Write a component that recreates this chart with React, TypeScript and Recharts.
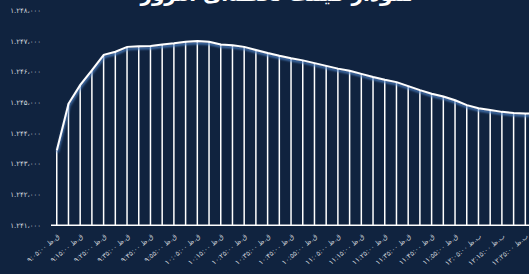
import React from 'react';
import { ComposedChart, Bar, Line, XAxis, YAxis } from 'recharts';

const times = [
  '9:05:00', '9:10:00', '9:15:00', '9:20:00', '9:25:00', '9:30:00', '9:35:00', '9:40:00',
  '9:45:00', '9:50:00', '9:55:00', '10:00:00', '10:05:00', '10:10:00', '10:15:00', '10:20:00',
  '10:25:00', '10:30:00', '10:35:00', '10:40:00', '10:45:00', '10:50:00', '10:55:00', '11:00:00',
  '11:05:00', '11:10:00', '11:15:00', '11:20:00', '11:25:00', '11:30:00', '11:35:00', '11:40:00',
  '11:45:00', '11:50:00', '11:55:00', '12:00:00', '12:05:00', '12:10:00', '12:15:00', '12:20:00',
  '12:25:00', '12:30:00',
];

const prices = [
  1243450, 1244970, 1245580, 1246060, 1246560, 1246660, 1246820, 1246840,
  1246850, 1246900, 1246940, 1246990, 1247010, 1246990, 1246900, 1246870,
  1246820, 1246720, 1246620, 1246530, 1246450, 1246380, 1246290, 1246200,
  1246110, 1246040, 1245940, 1245840, 1245750, 1245670, 1245540, 1245410,
  1245290, 1245200, 1245080, 1244920, 1244820, 1244760, 1244700, 1244660,
  1244650, 1244640,
];

const yTicks = [1241000, 1242000, 1243000, 1244000, 1245000, 1246000, 1247000, 1248000];

const titleText = 'نمودار قیمت لحظه‌ای امروز';

const faDigits = '۰۱۲۳۴۵۶۷۸۹';
const toFa = (s: string) => s.replace(/[0-9]/g, (d) => faDigits[Number(d)]);
const fmtNum = (n: number) => {
  const s = String(n);
  return toFa(s.slice(0, 1) + '.' + s.slice(1, 4) + '،' + s.slice(4));
};
const fmtTime = (t: string) => toFa(t) + (parseInt(t, 10) >= 12 ? ' ب.ظ' : ' ق.ظ');

const data = times.map((t, i) => ({ time: t, price: prices[i] }));

const BG = '#10233f';

export default function App() {
  return (
    <div style={{ position: 'fixed', left: 0, top: 0, width: 529, height: 274, overflow: 'hidden', background: BG }}>
      <svg width={0} height={0} style={{ position: 'absolute' }}>
        <defs>
          <filter id="lineShadow" x="-5%" y="-20%" width="110%" height="140%">
            <feDropShadow dx="0.5" dy="2" stdDeviation="0.8" floodColor="#4f86cc" floodOpacity="1" />
          </filter>
        </defs>
      </svg>
      <div
        style={{
          position: 'absolute', left: 0, top: -18, width: 554, textAlign: 'center',
          fontFamily: 'DejaVu Sans', fontWeight: 'bold', fontSize: 20, color: '#ffffff', direction: 'rtl',
        }}
      >
        {titleText}
      </div>
      <div style={{ position: 'absolute', left: 0, top: 0 }}>
        <ComposedChart width={554} height={274} data={data} margin={{ top: 10.7, right: 11, bottom: 0, left: 0 }}>
          <XAxis
            dataKey="time"
            interval={1}
            tickFormatter={fmtTime}
            angle={-40}
            textAnchor="end"
            height={48.7}
            tickLine={false}
            axisLine={{ stroke: '#ffffff', strokeWidth: 1.5 }}
            tick={{ fill: '#c9ced6', fontSize: 7, fontFamily: 'DejaVu Sans' }}
          />
          <YAxis
            domain={[1241000, 1248000]}
            ticks={yTicks}
            tickFormatter={fmtNum}
            width={51}
            tickLine={false}
            axisLine={false}
            tickMargin={4}
            tick={{ fill: '#d3d7de', fontSize: 7, fontFamily: 'DejaVu Sans' }}
          />
          <Bar dataKey="price" fill="#ffffff" barSize={1.5} isAnimationActive={false} />
          <Line
            dataKey="price"
            type="linear"
            stroke="#ffffff"
            strokeWidth={2}
            dot={false}
            filter="url(#lineShadow)"
            isAnimationActive={false}
          />
        </ComposedChart>
      </div>
    </div>
  );
}
